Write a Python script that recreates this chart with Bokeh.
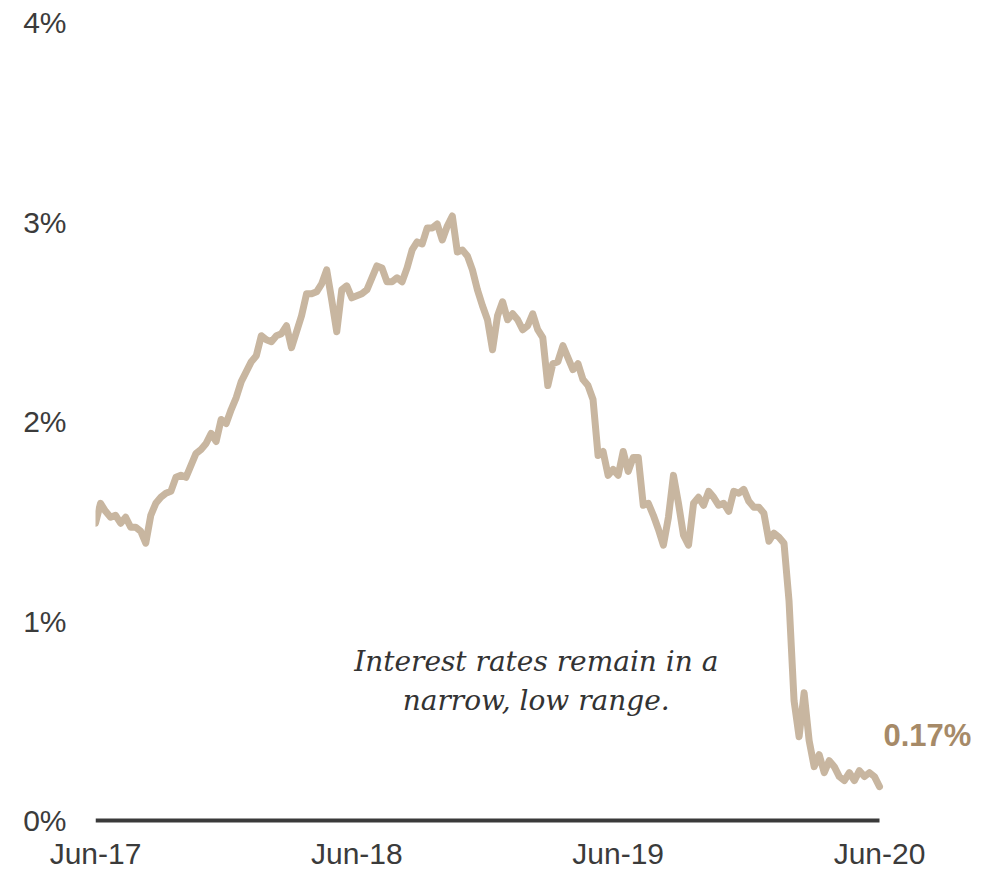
import pandas as pd
from bokeh.plotting import figure
from bokeh.models import Range1d, FixedTicker, Label
from bokeh.embed import file_html
from bokeh.resources import INLINE

# Weekly 2-year yield, %
dates = pd.date_range("2017-06-30", periods=157, freq="7D")
yields = [1.49, 1.59, 1.55, 1.52, 1.53, 1.49, 1.52, 1.47, 1.47, 1.45,
          1.39, 1.53, 1.59, 1.62, 1.64, 1.65, 1.72, 1.73, 1.72, 1.78,
          1.84, 1.86, 1.89, 1.94, 1.90, 2.01, 1.99, 2.06, 2.12, 2.20,
          2.25, 2.30, 2.33, 2.43, 2.41, 2.40, 2.43, 2.44, 2.48, 2.37,
          2.45, 2.53, 2.64, 2.64, 2.65, 2.69, 2.76, 2.61, 2.45, 2.66,
          2.68, 2.62, 2.63, 2.64, 2.66, 2.72, 2.78, 2.77, 2.70, 2.70,
          2.72, 2.70, 2.77, 2.86, 2.90, 2.89, 2.97, 2.97, 2.99, 2.91,
          2.98, 3.03, 2.85, 2.86, 2.83, 2.76, 2.66, 2.58, 2.51, 2.36,
          2.53, 2.60, 2.51, 2.54, 2.51, 2.46, 2.48, 2.54, 2.46, 2.42,
          2.18, 2.29, 2.30, 2.38, 2.32, 2.26, 2.29, 2.21, 2.18, 2.11,
          1.83, 1.85, 1.73, 1.76, 1.73, 1.85, 1.75, 1.82, 1.82, 1.58,
          1.59, 1.53, 1.46, 1.38, 1.52, 1.73, 1.59, 1.43, 1.38, 1.59,
          1.62, 1.58, 1.65, 1.62, 1.58, 1.59, 1.55, 1.65, 1.64, 1.66,
          1.60, 1.57, 1.57, 1.54, 1.40, 1.44, 1.42, 1.39, 1.10, 0.60,
          0.42, 0.64, 0.40, 0.27, 0.33, 0.24, 0.30, 0.27, 0.22, 0.20,
          0.24, 0.20, 0.25, 0.22, 0.24, 0.22, 0.17]
week = list(range(len(yields)))

x_tick_weeks = [0, 52, 104, 156]
x_tick_labels = ["Jun-17", "Jun-18", "Jun-19", "Jun-20"]
y_ticks = [0, 1, 2, 3, 4]
y_tick_labels = ["0%", "1%", "2%", "3%", "4%"]
last_label = "0.17%"
note = "Interest rates remain in a\nnarrow, low range."
note_week = 87.7
note_level = 0.88

W, H = 995, 872
left, right, top, bottom = 95, 20, 22, 48
frame_w = W - left - right
data_w = 784  # pixels from first to last point

p = figure(width=W, height=H, output_backend="svg", toolbar_location=None,
           x_range=Range1d(0, (len(week) - 1) * frame_w / data_w),
           y_range=Range1d(-0.02, 4),
           min_border_left=left, min_border_right=right,
           min_border_top=top, min_border_bottom=bottom)
p.outline_line_color = None
p.grid.visible = False
p.background_fill_color = "white"
p.border_fill_color = "white"

for ax in (p.xaxis[0], p.yaxis[0]):
    ax.axis_line_color = None
    ax.major_tick_line_color = None
    ax.minor_tick_line_color = None
    ax.major_tick_in = 0
    ax.major_tick_out = 0
    ax.major_label_text_font = "Liberation Sans"
    ax.major_label_text_font_size = "30px"
    ax.major_label_text_color = "#3b3b3b"

p.xaxis.ticker = FixedTicker(ticks=x_tick_weeks)
p.xaxis.major_label_overrides = {w: l for w, l in zip(x_tick_weeks, x_tick_labels)}
p.xaxis.major_label_standoff = 12
p.yaxis.ticker = FixedTicker(ticks=y_ticks)
p.yaxis.major_label_overrides = {t: l for t, l in zip(y_ticks, y_tick_labels)}
p.yaxis.major_label_standoff = 29

# baseline
p.segment(x0=[week[0]], y0=[0], x1=[week[-1]], y1=[0],
          line_color="#3a3a3a", line_width=4)

p.line(week, yields, line_color="#C8B6A0", line_width=7,
       line_join="round", line_cap="round")

p.add_layout(Label(x=week[-1], y=yields[-1], text=last_label,
                   x_offset=4, y_offset=34,
                   text_font="Liberation Sans", text_font_style="bold",
                   text_font_size="31px", text_color="#A68A68",
                   text_align="left", text_baseline="bottom"))

p.add_layout(Label(x=note_week, y=note_level, text=note,
                   text_font="DejaVu Serif", text_font_style="italic",
                   text_font_size="28px", text_color="#333333",
                   text_align="center", text_baseline="top",
                   text_line_height=1.17))

open("out.html", "w").write(file_html(p, INLINE))
